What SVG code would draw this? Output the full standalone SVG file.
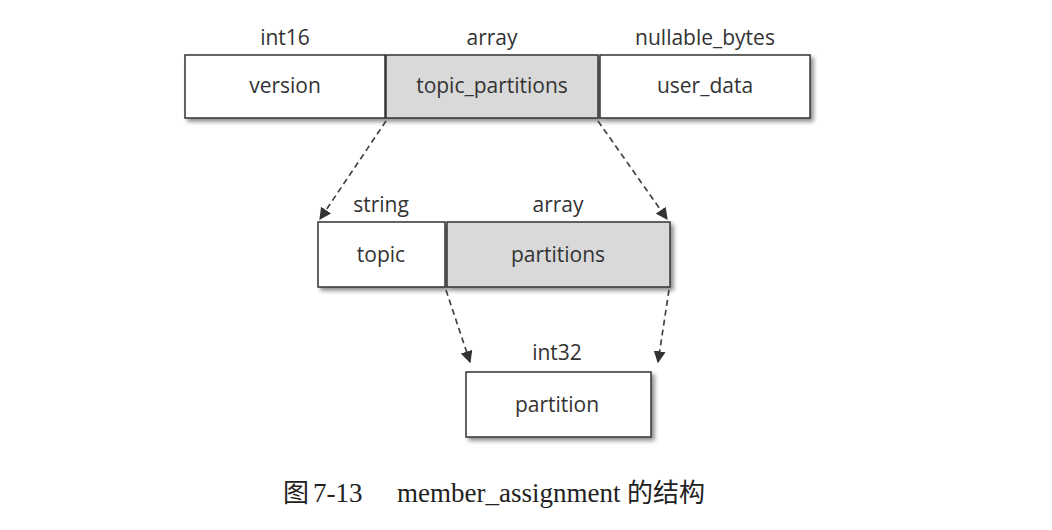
<svg xmlns="http://www.w3.org/2000/svg" width="1052" height="530" viewBox="0 0 1052 530">
<defs>
<style>
.box{stroke:#333;stroke-width:1.5}
.w{fill:#fff}
.g{fill:#d9d9d9}
.t{font-family:"Open Sans","DejaVu Sans",sans-serif;font-size:21px;fill:#333;text-anchor:middle}
.c{stroke:#444;stroke-width:1.7;stroke-dasharray:6 4;fill:none}
.cap{font-family:"Liberation Serif","Noto Sans CJK SC",serif;font-size:26px;fill:#222}
</style>
<filter id="sh" x="-10%" y="-20%" width="130%" height="150%">
<feGaussianBlur in="SourceAlpha" stdDeviation="2"/>
<feOffset dx="3" dy="3"/>
<feComponentTransfer><feFuncA type="linear" slope="0.45"/></feComponentTransfer>
<feMerge><feMergeNode/><feMergeNode in="SourceGraphic"/></feMerge>
</filter>
<marker id="ah" viewBox="0 0 10 10" refX="9" refY="5" markerWidth="12" markerHeight="12" orient="auto" markerUnits="userSpaceOnUse">
<path d="M0,0 L10,5 L0,10 z" fill="#333"/>
</marker>
</defs>
<rect width="1052" height="530" fill="#fff"/>
<g id="version"><rect class="box w" x="185" y="55" width="200" height="63" filter="url(#sh)"/><text class="t" x="285" y="45">int16</text><text class="t" x="285" y="93">version</text></g>
<g id="topic_partitions"><rect class="box g" x="386" y="55" width="212" height="63" filter="url(#sh)"/><text class="t" x="492" y="45">array</text><text class="t" x="492" y="93">topic_partitions</text></g>
<g id="user_data"><rect class="box w" x="600" y="55" width="210" height="63" filter="url(#sh)"/><text class="t" x="705" y="45">nullable_bytes</text><text class="t" x="705" y="93">user_data</text></g>
<g id="topic"><rect class="box w" x="318" y="222" width="127" height="65" filter="url(#sh)"/><text class="t" x="381" y="212">string</text><text class="t" x="381" y="262">topic</text></g>
<g id="partitions"><rect class="box g" x="447" y="222" width="223" height="65" filter="url(#sh)"/><text class="t" x="558" y="212">array</text><text class="t" x="558" y="262">partitions</text></g>
<g id="partition"><rect class="box w" x="466" y="372" width="185" height="65" filter="url(#sh)"/><text class="t" x="557" y="360">int32</text><text class="t" x="557" y="412">partition</text></g>
<g id="connectors">
<line class="c" x1="386" y1="121" x2="320" y2="219" marker-end="url(#ah)"/>
<line class="c" x1="598" y1="121" x2="667" y2="219" marker-end="url(#ah)"/>
<line class="c" x1="446" y1="290" x2="470" y2="362" marker-end="url(#ah)"/>
<line class="c" x1="669" y1="290" x2="658" y2="362" marker-end="url(#ah)"/>
</g>
<text class="cap" y="502"><tspan x="283">图</tspan><tspan x="313" font-size="27">7-13</tspan><tspan x="397" font-size="27">member_assignment</tspan><tspan x="627">的结构</tspan></text>
</svg>
